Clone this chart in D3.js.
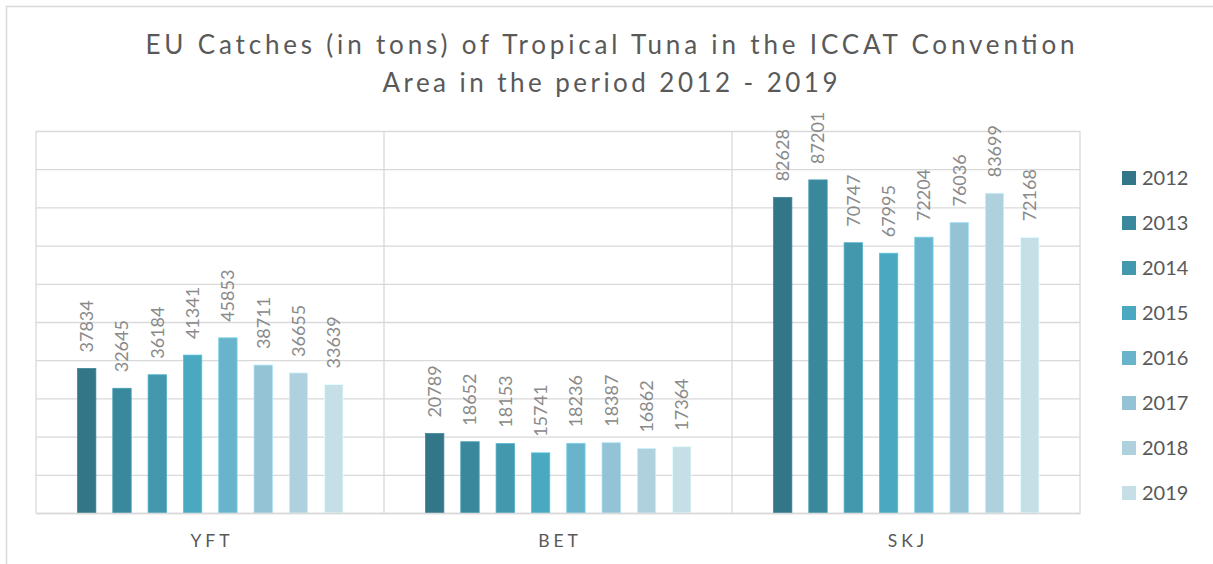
<!DOCTYPE html>
<html>
<head>
<meta charset="utf-8">
<script src="https://cdn.jsdelivr.net/npm/d3@7"></script>
<style>
  html, body { margin: 0; padding: 0; background: #fff; }
  svg { display: block; font-family: Lato, "Open Sans", sans-serif; }
</style>
</head>
<body>
<svg id="chart" width="1213" height="564"></svg>
<script>
const categories = ["YFT", "BET", "SKJ"];
const years = ["2012", "2013", "2014", "2015", "2016", "2017", "2018", "2019"];
const yft = [37834, 32645, 36184, 41341, 45853, 38711, 36655, 33639];
const bet = [20789, 18652, 18153, 15741, 18236, 18387, 16862, 17364];
const skj = [82628, 87201, 70747, 67995, 72204, 76036, 83699, 72168];
const yTicks = [0, 10000, 20000, 30000, 40000, 50000, 60000, 70000, 80000, 90000, 100000];
const colors = ["#327687", "#3a889c", "#4398ae", "#4aa8c0", "#69b4cb", "#93c3d4", "#aed1dd", "#c6dee6"];
const titleLines = ["EU Catches (in tons) of Tropical Tuna in the ICCAT Convention", "Area in the period 2012 - 2019"];

const seriesByCat = { YFT: yft, BET: bet, SKJ: skj };
const data = categories.map(c => ({ cat: c, values: years.map((y, i) => ({ year: y, value: seriesByCat[c][i] })) }));

const svg = d3.select("#chart");
const plot = { left: 36, right: 1080, top: 131, bottom: 513 };
const gridColor = "#d9d9d9";

// outer border
svg.append("rect").attr("x", 6.5).attr("y", 6.5).attr("width", 1240).attr("height", 620)
  .attr("fill", "none").attr("stroke", gridColor).attr("stroke-width", 1.5);

// title
const title = svg.append("text").attr("text-anchor", "middle").attr("fill", "#595959")
  .attr("font-size", 26);
const titleWidths = [929, 455];
titleLines.forEach((t, i) => {
  title.append("tspan").attr("x", 610).attr("y", 54 + i * 38)
    .attr("textLength", titleWidths[i]).attr("lengthAdjust", "spacing").text(t);
});

const y = d3.scaleLinear().domain([0, 100000]).range([plot.bottom, plot.top]);
const x0 = d3.scaleBand().domain(categories).range([plot.left, plot.right]).padding(0);
const x1 = d3.scaleBand().domain(years).range([41.5, x0.bandwidth() - 41]).paddingInner(0.48).paddingOuter(0);
const color = d3.scaleOrdinal().domain(years).range(colors);

// horizontal gridlines
svg.append("g").attr("transform", `translate(${plot.left},0)`)
  .call(d3.axisLeft(y).tickValues(yTicks).tickSize(-(plot.right - plot.left)).tickFormat(""))
  .call(g => g.select(".domain").remove())
  .call(g => g.selectAll("line").attr("stroke", gridColor).attr("stroke-width", 1.3));

// vertical category separators
const seps = categories.map(c => x0(c)).concat([plot.right]);
svg.append("g").selectAll("line").data(seps).join("line")
  .attr("x1", d => d).attr("x2", d => d).attr("y1", plot.top).attr("y2", plot.bottom)
  .attr("stroke", gridColor).attr("stroke-width", 1.3);

// bars
const groups = svg.append("g").selectAll("g").data(data).join("g")
  .attr("transform", d => `translate(${x0(d.cat)},0)`);
groups.selectAll("rect").data(d => d.values).join("rect")
  .attr("x", d => x1(d.year)).attr("width", x1.bandwidth())
  .attr("y", d => y(d.value)).attr("height", d => y(0) - y(d.value))
  .attr("fill", d => color(d.year))
  .attr("stroke", d => d3.color(color(d.year)).brighter(0.4)).attr("stroke-width", 0.8);

// data labels
groups.selectAll("text").data(d => d.values).join("text")
  .attr("transform", d => `translate(${x1(d.year) + x1.bandwidth() / 2},${y(d.value) - 16}) rotate(-90)`)
  .attr("dy", "0.35em").attr("text-anchor", "start")
  .attr("fill", "#8a8a8a").attr("font-size", 18)
  .text(d => d.value);

// category axis
const xAxis = svg.append("g").attr("transform", `translate(0,${plot.bottom})`)
  .call(d3.axisBottom(x0).tickSize(0).tickPadding(0));
xAxis.select(".domain").attr("stroke", gridColor).attr("stroke-width", 1.3);
xAxis.selectAll("text").attr("font-size", 17.5).attr("fill", "#595959")
  .attr("font-family", "Lato, 'Open Sans', sans-serif")
  .attr("letter-spacing", "4px").attr("dy", 0).attr("y", 34).attr("dx", "2px");

// legend
const legend = svg.append("g").selectAll("g").data(years).join("g")
  .attr("transform", (d, i) => `translate(1122,${178 + i * 45})`);
legend.append("rect").attr("x", 0).attr("y", -7).attr("width", 14).attr("height", 14)
  .attr("fill", d => color(d));
legend.append("text").attr("x", 20).attr("y", 0).attr("dy", "0.36em")
  .attr("font-size", 20).attr("fill", "#595959").text(d => d);
</script>
</body>
</html>
